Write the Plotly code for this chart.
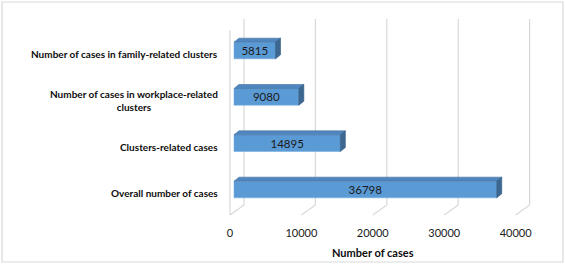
import plotly.graph_objects as go

# ---- data ----
categories = [
    "Overall number of cases",
    "Clusters-related cases",
    "Number of cases in workplace-related<br>clusters",
    "Number of cases in family-related clusters",
]
values = [36798, 14895, 9080, 5815]
tick_vals = [0, 10000, 20000, 30000, 40000]
tick_text = ["0", "10000", "20000", "30000", "40000"]
axis_title = "Number of cases"

# ---- geometry helpers (pixels -> axis units) ----
W, H = 565, 265
px_per_unit_x = 71.4 / 10000.0        # pixels per case
zero_px = 234.0                         # pixel of value 0 (bar front face)
dom_l, dom_r = 200.0, 545.0
x_lo = -(zero_px - dom_l) / px_per_unit_x
x_hi = (dom_r - zero_px) / px_per_unit_x

y_top_px, y_bot_px = 19.0, 215.0
cat_px0, cat_step = 189.5, 46.33       # pixel of category 0 centre, spacing
y_lo = -(y_bot_px - cat_px0) / cat_step
y_hi = (cat_px0 - y_top_px) / cat_step

bar_w = 16.7 / cat_step
dx = 5.0 / px_per_unit_x
dy = 4.0 / cat_step

def py(p):
    return 1 - p / H

def px(p):
    return p / W

ypos = list(range(len(categories)))

fig = go.Figure()

# top faces and side faces of 3D bars
for i, v in enumerate(values):
    yt = ypos[i] + bar_w / 2
    yb = ypos[i] - bar_w / 2
    fig.add_trace(go.Scatter(
        x=[0, v, v + dx, dx, 0], y=[yt, yt, yt + dy, yt + dy, yt],
        fill="toself", fillcolor="#4F86C0", mode="lines",
        line=dict(color="#41719C", width=0.6), hoverinfo="skip", showlegend=False))
    fig.add_trace(go.Scatter(
        x=[v, v + dx, v + dx, v, v], y=[yb, yb + dy, yt + dy, yt, yb],
        fill="toself", fillcolor="#3B6791", mode="lines",
        line=dict(color="#335A80", width=0.6), hoverinfo="skip", showlegend=False))

# front faces
fig.add_trace(go.Bar(
    x=values, y=ypos, orientation="h", width=bar_w, base=0,
    marker=dict(color="#5B9BD5", line=dict(color="#6FA8DC", width=0.5)),
    text=[str(v) for v in values], textposition="inside",
    insidetextanchor="middle", textangle=0, constraintext="none",
    textfont=dict(family="Lato", size=11.5, color="#1A1A1A"),
    hoverinfo="skip", showlegend=False))

shapes = []
grid_c = "#D9D9D9"
# back wall gridlines + floor diagonals
for t in tick_vals:
    shapes.append(dict(type="line", xref="x", xsizemode="pixel", xanchor=t,
                       x0=10, x1=10, yref="paper", y0=py(19), y1=py(205),
                       line=dict(color=grid_c, width=1.2), layer="below"))
    shapes.append(dict(type="line", xref="x", xsizemode="pixel", xanchor=t,
                       x0=10, x1=-4, yref="paper", y0=py(205), y1=py(215),
                       line=dict(color=grid_c, width=1.2), layer="below"))
# left wall front edge
shapes.append(dict(type="line", xref="x", xsizemode="pixel", xanchor=0,
                   x0=-4, x1=-4, yref="paper", y0=py(30), y1=py(215),
                   line=dict(color=grid_c, width=1.2), layer="below"))
# outer border
shapes.append(dict(type="rect", xref="paper", yref="paper",
                   x0=px(2), x1=px(563), y0=py(2), y1=py(262),
                   line=dict(color="#D9D9D9", width=1.2), layer="below"))

annotations = []
for i, c in enumerate(categories):
    annotations.append(dict(
        x=px(220), xref="paper", xanchor="right", y=ypos[i], yref="y",
        yshift=-3.5, text="<b>" + c + "</b>", showarrow=False, align="center",
        font=dict(family="Lato", size=10, color="#0D0D0D")))
annotations.append(dict(
    x=px(373), xref="paper", xanchor="center", y=py(252), yref="paper",
    yanchor="middle", text="<b>" + axis_title + "</b>", showarrow=False,
    font=dict(family="Lato", size=11, color="#0D0D0D")))

fig.update_layout(
    width=W, height=H,
    margin=dict(l=0, r=0, t=0, b=0),
    paper_bgcolor="white", plot_bgcolor="rgba(0,0,0,0)",
    shapes=shapes, annotations=annotations,
    xaxis=dict(domain=[px(dom_l), px(dom_r)], range=[x_lo, x_hi],
               showgrid=False, zeroline=False, showline=False,
               tickmode="array", tickvals=tick_vals, ticktext=tick_text,
               ticks="", ticklabelshift=-4, ticklabelstandoff=10,
               tickfont=dict(family="Lato", size=11, color="#1A1A1A"),
               fixedrange=True),
    yaxis=dict(domain=[py(y_bot_px), py(y_top_px)], range=[y_lo, y_hi],
               showgrid=False, zeroline=False, showline=False,
               showticklabels=False, fixedrange=True),
)

fig.write_html("out.html", config={"displayModeBar": False},
               post_script="document.body.style.margin='0';")
